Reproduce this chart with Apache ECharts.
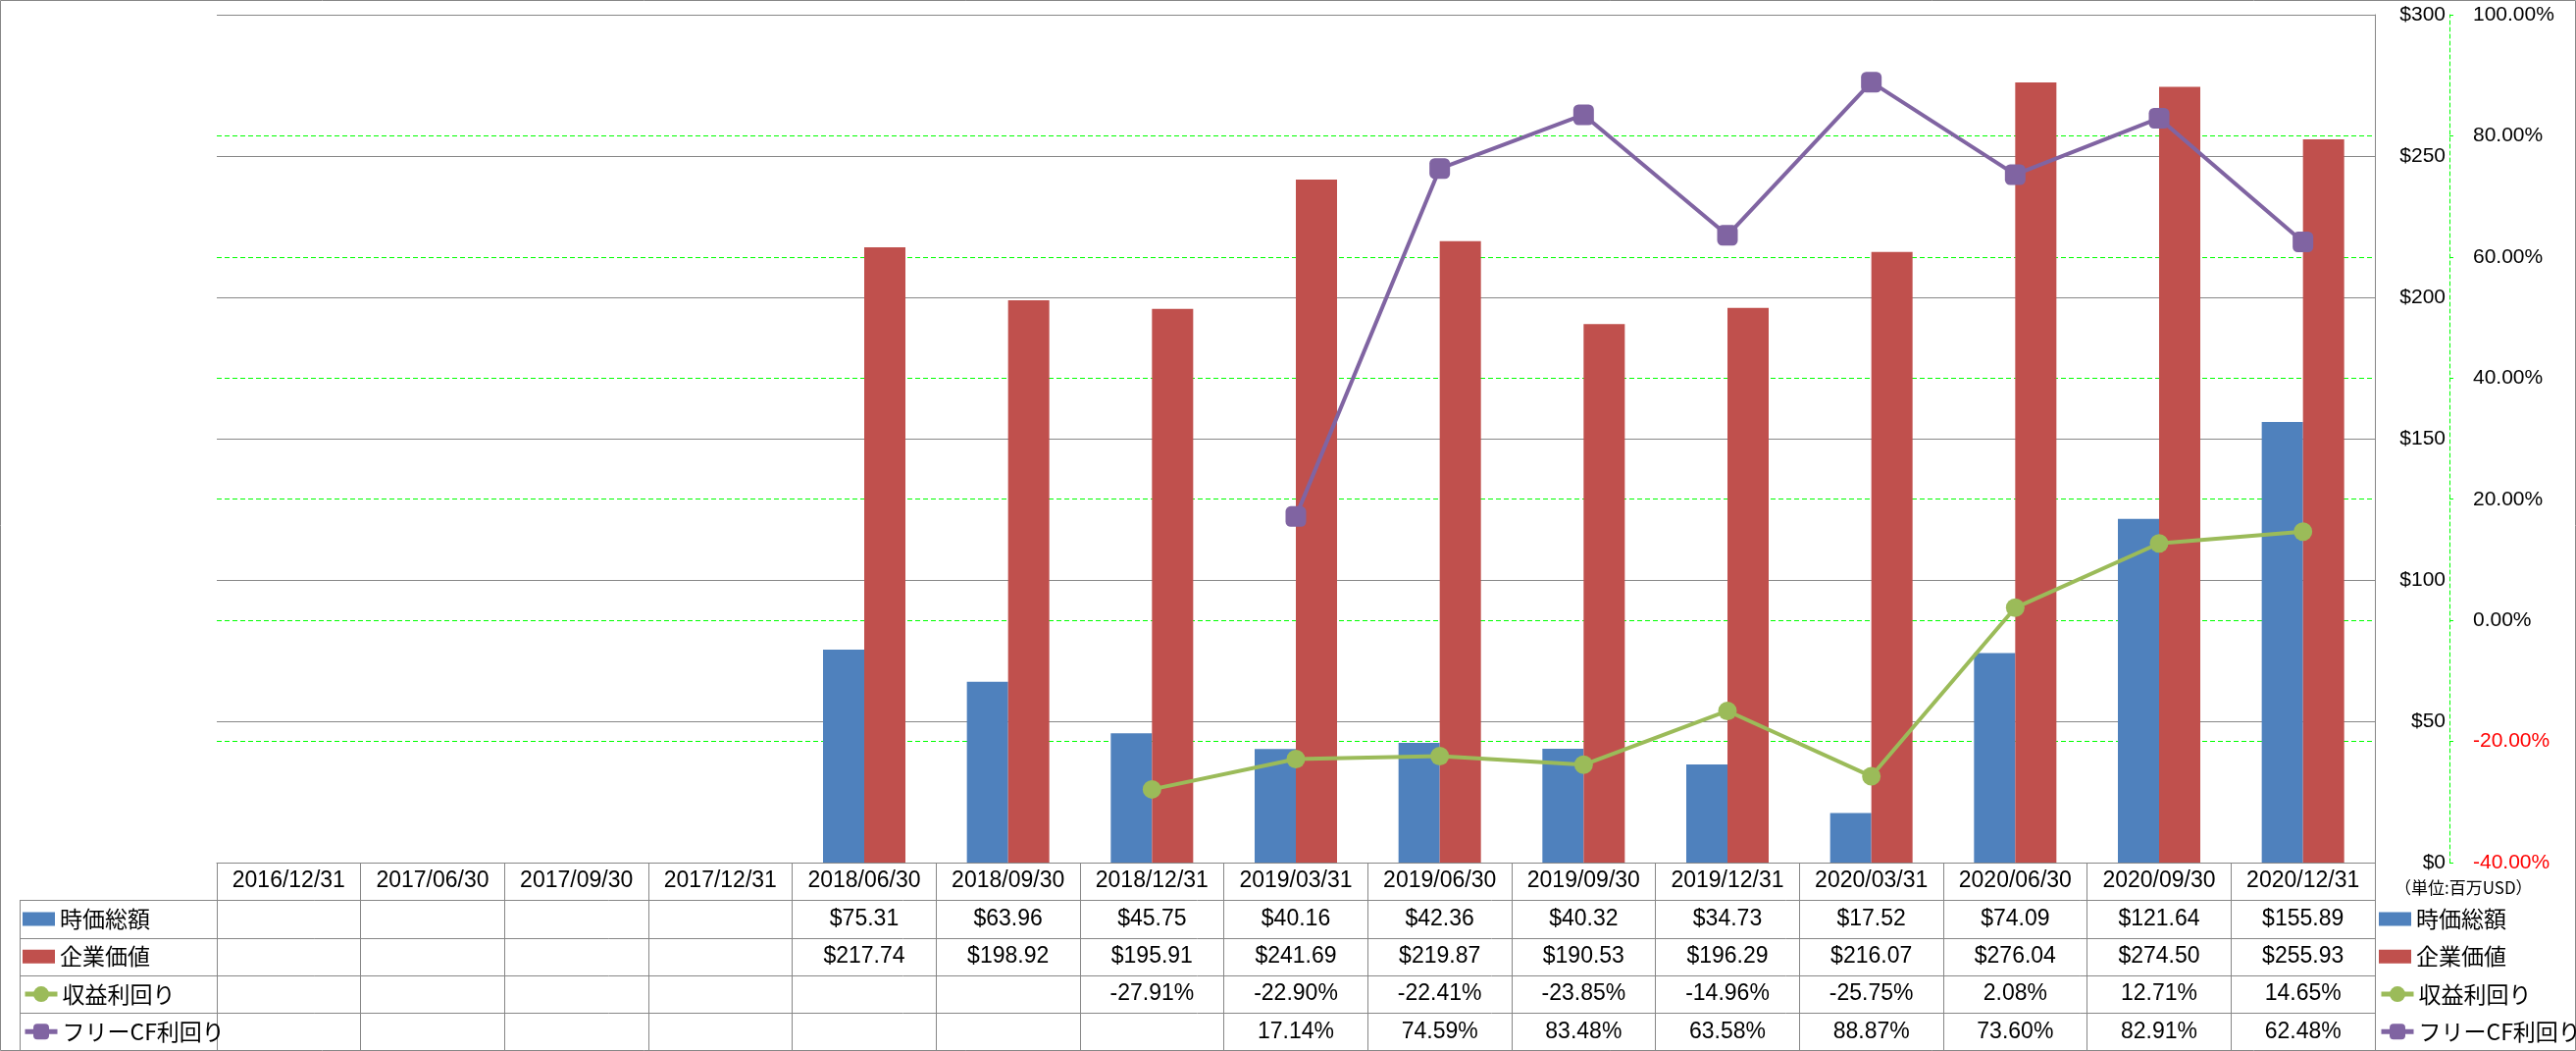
<!DOCTYPE html>
<html>
<head>
<meta charset="utf-8">
<script src="https://cdn.jsdelivr.net/npm/echarts@6/dist/echarts.min.js"></script>
<style>
  html, body { margin: 0; padding: 0; background: #fff; }
  #chart { width: 2626px; height: 1071px; }
</style>
</head>
<body>
<div id="chart"></div>
<script>
// データ
const categories = ['2016/12/31', '2017/06/30', '2017/09/30', '2017/12/31', '2018/06/30', '2018/09/30', '2018/12/31',
  '2019/03/31', '2019/06/30', '2019/09/30', '2019/12/31', '2020/03/31', '2020/06/30', '2020/09/30', '2020/12/31']
const marketCap = [null, null, null, null, 75.31, 63.96, 45.75, 40.16, 42.36, 40.32, 34.73, 17.52, 74.09, 121.64, 155.89]
const enterpriseValue = [null, null, null, null, 217.74, 198.92, 195.91, 241.69, 219.87, 190.53, 196.29, 216.07, 276.04, 274.50, 255.93]
const earningsYield = [null, null, null, null, null, null, -27.91, -22.90, -22.41, -23.85, -14.96, -25.75, 2.08, 12.71, 14.65]
const fcfYield = [null, null, null, null, null, null, null, 17.14, 74.59, 83.48, 63.58, 88.87, 73.60, 82.91, 62.48]
const seriesNames = ['時価総額', '企業価値', '収益利回り', 'フリーCF利回り']
const moneyTicks = [0, 300, 50]   // min, max, interval
const pctTicks = [-40, 100, 20]

// レイアウト
const PLOT_L = 221, PLOT_R = 2421, PLOT_T = 15, PLOT_B = 879
const ROW = 38.3
const TABLE_L = 20
const W = 2626, H = 1071
const NUM_FONT = 'Liberation Sans, Arial, sans-serif'
const JP_FONT = 'Noto Sans CJK JP, sans-serif'
const GRID_GRAY = '#878787'
const GREEN = '#00ff00'

const money = v => '$' + v.toFixed(2)
const pct = v => v.toFixed(2) + '%'
const tableRows = [
  { data: marketCap, fmt: money },
  { data: enterpriseValue, fmt: money },
  { data: earningsYield, fmt: pct },
  { data: fcfYield, fmt: pct }
]

// テーブル罫線・外枠
const tableH = ROW * 5
const borders = []
for (let i = 1; i <= 5; i++) {
  const y = Math.round(PLOT_B + ROW * i) + 0.5
  borders.push({ type: 'line', shape: { x1: TABLE_L, y1: y, x2: PLOT_R, y2: y }, style: { stroke: GRID_GRAY, lineWidth: 1 } })
}
borders.push({ type: 'line', shape: { x1: TABLE_L + 0.5, y1: PLOT_B + ROW, x2: TABLE_L + 0.5, y2: PLOT_B + tableH }, style: { stroke: GRID_GRAY, lineWidth: 1 } })
borders.push({ type: 'rect', shape: { x: 0.5, y: 0.5, width: W - 1, height: H - 1 }, style: { fill: null, stroke: GRID_GRAY, lineWidth: 1 } })

// 凡例: 棒と折れ線でアイコンサイズが違うので分ける
const legendText = { fontSize: 23, lineHeight: 24, fontFamily: JP_FONT, color: '#000' }
function makeLegend(left, rowIdx, names, iconH, extra) {
  return {
    orient: 'vertical',
    left,
    top: PLOT_B + ROW * (rowIdx + 1) + (ROW - 24) / 2 - 5,
    itemGap: ROW - 24,
    itemWidth: 33,
    itemHeight: iconH,
    selectedMode: false,
    textStyle: legendText,
    data: names,
    ...extra
  }
}
const barLegendNames = [{ name: seriesNames[0], icon: 'rect' }, { name: seriesNames[1], icon: 'rect' }]
const lineLegendNames = [seriesNames[2], seriesNames[3]]
const lineLegendExtra = { lineStyle: { width: 5 } }

const chart = echarts.init(document.getElementById('chart'))
chart.setOption({
  animation: false,
  backgroundColor: '#fff',
  title: {
    text: '（単位:百万USD）',
    left: 2436, top: 891,
    textStyle: { fontSize: 17, fontWeight: 'normal', fontFamily: JP_FONT, color: '#000' }
  },
  legend: [
    makeLegend(TABLE_L - 2, 0, barLegendNames, 14, {}),
    makeLegend(TABLE_L - 2, 2, lineLegendNames, 20, lineLegendExtra),
    makeLegend(PLOT_R - 1, 0, barLegendNames, 14, {}),
    makeLegend(PLOT_R - 1, 2, lineLegendNames, 20, lineLegendExtra)
  ],
  grid: { left: PLOT_L, right: W - PLOT_R, top: PLOT_T, bottom: H - PLOT_B, containLabel: false, outerBoundsMode: 'none' },
  xAxis: [
    {
      type: 'category',
      position: 'bottom',
      data: categories,
      axisLine: { lineStyle: { color: GRID_GRAY, width: 1 } },
      axisTick: { show: true, length: tableH, lineStyle: { color: GRID_GRAY } },
      axisLabel: { interval: 0, margin: ROW / 2, verticalAlign: 'middle', fontSize: 23, fontFamily: NUM_FONT, color: '#000' }
    },
    // データテーブル各行
    ...tableRows.map((r, i) => ({
      type: 'category',
      position: 'bottom',
      offset: 0,
      data: categories,
      axisLine: { show: false },
      axisTick: { show: false },
      splitLine: { show: false },
      axisLabel: {
        interval: 0, margin: ROW * (i + 1.5), verticalAlign: 'middle',
        fontSize: 23, fontFamily: NUM_FONT, color: '#000',
        formatter: (v, idx) => r.data[idx] == null ? '' : r.fmt(r.data[idx])
      }
    }))
  ],
  yAxis: [
    {
      type: 'value',
      position: 'right',
      min: moneyTicks[0], max: moneyTicks[1], interval: moneyTicks[2],
      axisLine: { show: true, lineStyle: { color: GRID_GRAY } },
      axisTick: { show: false },
      splitLine: { lineStyle: { color: GRID_GRAY, width: 1 } },
      axisLabel: { margin: 72, align: 'right', fontSize: 21, fontFamily: NUM_FONT, color: '#000', formatter: v => '$' + v }
    },
    {
      type: 'value',
      position: 'right',
      offset: 76,
      min: pctTicks[0], max: pctTicks[1], interval: pctTicks[2],
      axisLine: { show: true, lineStyle: { color: GREEN, type: [4, 3] } },
      axisTick: { show: true, length: 7, lineStyle: { color: GREEN, type: [4, 3] } },
      // 上端・下端はグレーの罫線を優先
      splitLine: { showMinLine: false, showMaxLine: false, lineStyle: { color: GREEN, width: 1, type: [5, 3] } },
      axisLabel: {
        margin: 24, fontSize: 21, fontFamily: NUM_FONT,
        color: v => Number(v) < 0 ? '#ff0000' : '#000',
        formatter: v => v.toFixed(2) + '%'
      }
    }
  ],
  graphic: borders,
  series: [
    { name: seriesNames[0], type: 'bar', data: marketCap, barWidth: 42, barGap: '0%', itemStyle: { color: '#4f81bd' } },
    { name: seriesNames[1], type: 'bar', data: enterpriseValue, barWidth: 42, barGap: '0%', itemStyle: { color: '#c0504d' } },
    {
      name: seriesNames[2], type: 'line', yAxisIndex: 1, data: earningsYield, z: 5,
      symbol: 'circle', symbolSize: 19,
      lineStyle: { color: '#9bbb59', width: 4 }, itemStyle: { color: '#9bbb59' }
    },
    {
      name: seriesNames[3], type: 'line', yAxisIndex: 1, data: fcfYield, z: 6,
      symbol: 'roundRect', symbolSize: 21,
      lineStyle: { color: '#8064a2', width: 4 }, itemStyle: { color: '#8064a2' }
    }
  ]
})
</script>
</body>
</html>
